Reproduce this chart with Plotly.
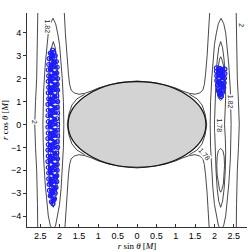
import plotly.graph_objects as go

# ---------------- axes ----------------
x_tickvals = [-2.5, -2, -1.5, -1, -0.5, 0, 0.5, 1, 1.5, 2, 2.5]
x_ticktext = ["2.5", "2", "1.5", "1", "0.5", "0", "0.5", "1", "1.5", "2", "2.5"]
y_tickvals = [-4, -3, -2, -1, 0, 1, 2, 3, 4]
x_range = [-2.84, 2.84]
y_range = [-4.48, 4.87]

# ---------------- horizon (grey region) ----------------
horizon_rx = 1.78
horizon_ry = 1.87

# ---------------- contour branches ----------------
# upper-right quadrant pieces; the figure is mirror-symmetric in both axes
level2_x = [2.56, 2.57, 2.59, 2.62, 2.64]
level2_y = [5.0, 3.5, 2.0, 1.0, 0.0]

lobe182_x = [1.89, 1.90, 1.93, 1.96, 2.00, 2.05, 2.10, 2.17, 2.24, 2.29, 2.32, 2.37, 2.41, 2.42, 2.43]
lobe182_y = [0.0, 1.0, 2.0, 2.8, 3.5, 4.0, 4.4, 4.64, 4.4, 4.0, 3.5, 2.6, 1.5, 0.8, 0.0]

lobe178_x = [2.00, 2.01, 2.02, 2.04, 2.07, 2.11, 2.16, 2.21, 2.25, 2.28, 2.29, 2.28, 2.26]
lobe178_y = [0.0, 0.6, 1.2, 2.0, 2.8, 3.35, 3.62, 3.35, 2.8, 2.0, 1.2, 0.6, 0.0]

island_x = [2.16, 2.10, 2.07, 2.06, 2.07, 2.10, 2.13, 2.16, 2.19, 2.23, 2.25, 2.26, 2.25, 2.22, 2.16]
island_y = [1.05, 1.15, 1.4, 1.8, 2.2, 2.6, 2.85, 2.96, 2.85, 2.6, 2.2, 1.8, 1.4, 1.15, 1.05]

saddle_x = [1.88, 1.85, 1.81, 1.77, 1.74, 1.70, 1.62, 1.50, 1.35, 1.18, 1.0, 0.75, 0.45, 0.0]
saddle_y = [5.0, 4.0, 3.0, 2.2, 1.75, 1.5, 1.38, 1.32, 1.36, 1.46, 1.59, 1.72, 1.83, 1.90]

hug_x = [1.35, 1.55, 1.68, 1.76, 1.80, 1.76, 1.68, 1.55, 1.35]
hug_y = [1.32, 1.12, 0.85, 0.45, 0.0, -0.45, -0.85, -1.12, -1.32]

# ---------------- trajectories (blue points) ----------------
left_traj_x = [-2.18, -2.24, -2.11, -2.27, -2.08, -2.28, -2.06, -2.29, -2.07, -2.28, -2.05,
               -2.29, -2.06, -2.28, -2.05, -2.29, -2.07, -2.28, -2.05, -2.30, -2.06, -2.29,
               -2.05, -2.30, -2.07, -2.29, -2.05, -2.30, -2.06, -2.29, -2.05, -2.30, -2.06,
               -2.29, -2.05, -2.30, -2.07, -2.29, -2.05, -2.30, -2.06, -2.29, -2.06, -2.28,
               -2.07, -2.28, -2.07, -2.27, -2.09, -2.26, -2.11, -2.24, -2.13, -2.21, -2.17]
left_traj_y = [3.25, 3.12, 3.0, 2.88, 2.75, 2.62, 2.5, 2.38, 2.25, 2.12, 2.0, 1.88, 1.75,
               1.62, 1.5, 1.38, 1.25, 1.12, 1.0, 0.88, 0.75, 0.62, 0.5, 0.38, 0.25, 0.12,
               0.0, -0.12, -0.25, -0.38, -0.5, -0.62, -0.75, -0.88, -1.0, -1.12, -1.25,
               -1.38, -1.5, -1.62, -1.75, -1.88, -2.0, -2.12, -2.25, -2.38, -2.5, -2.62,
               -2.75, -2.88, -3.0, -3.12, -3.25, -3.38, -3.47]
left_traj2_x = [-2.15, -2.22, -2.12, -2.23, -2.11, -2.24, -2.12, -2.23, -2.11, -2.24,
                -2.12, -2.23, -2.11, -2.24, -2.12, -2.23, -2.11, -2.24, -2.12, -2.23,
                -2.11, -2.24, -2.12, -2.23, -2.13, -2.21, -2.15]
left_traj2_y = [-3.30, -3.05, -2.80, -2.55, -2.30, -2.05, -1.80, -1.55, -1.30, -1.05,
                -0.80, -0.55, -0.30, -0.05, 0.20, 0.45, 0.70, 0.95, 1.20, 1.45,
                1.70, 1.95, 2.20, 2.45, 2.70, 2.95, 3.15]
right_traj_x = [2.05, 2.27, 2.05, 2.27, 2.06, 2.26, 2.06, 2.25, 2.08, 2.24, 2.10, 2.21, 2.13, 2.17]
right_traj_y = [2.47, 2.42, 2.32, 2.22, 2.12, 2.02, 1.92, 1.82, 1.72, 1.62, 1.52, 1.42, 1.32, 1.22]
right_traj2_x = [2.16, 2.11, 2.22, 2.11, 2.21, 2.12, 2.20, 2.14]
right_traj2_y = [1.28, 1.45, 1.65, 1.85, 2.05, 2.25, 2.40, 2.45]

# ---------------- contour labels ----------------
label_text = ["1.82", "2", "2", "1.82", "1.78", "1.78"]
label_x = [-2.31, -2.63, 2.70, 2.42, 2.12, 1.74]
label_y = [4.3, 0.1, 4.35, 1.0, -0.05, -1.33]
label_angle = [90, 90, 90, 90, 90, 50]

LINE = dict(color="#1a1a1a", width=0.8)
BLUE = "#1c1cff"


def neg(v):
    return [-a for a in v]


def open_vertical(xq, yq):
    return xq + xq[::-1][1:], yq + neg(yq[::-1])[1:]


def closed_arch(ax, ay):
    return ax + ax[::-1][1:], ay + neg(ay[::-1])[1:]


def bridge(xq, yq):
    return xq + neg(xq[::-1])[1:], yq + yq[::-1][1:]


fig = go.Figure()


def add_curve(x, y, mirror_x=True):
    fig.add_trace(go.Scatter(x=x, y=y, mode="lines", line=LINE, hoverinfo="skip",
                             showlegend=False))
    if mirror_x:
        fig.add_trace(go.Scatter(x=neg(x), y=y, mode="lines", line=LINE,
                                 hoverinfo="skip", showlegend=False))


fig.add_shape(type="circle", xref="x", yref="y",
              x0=-horizon_rx, x1=horizon_rx, y0=-horizon_ry, y1=horizon_ry,
              fillcolor="#d3d3d3", line=dict(color="#111111", width=1.2), layer="above")

add_curve(*open_vertical(level2_x, level2_y))
add_curve(*closed_arch(lobe182_x, lobe182_y))
add_curve(*closed_arch(lobe178_x, lobe178_y))
add_curve(island_x, island_y)
add_curve(island_x, neg(island_y))
bx, by = bridge(saddle_x, saddle_y)
add_curve(bx, by, mirror_x=False)
add_curve(bx, neg(by), mirror_x=False)
add_curve(hug_x, hug_y)

for tx, ty in [(left_traj_x, left_traj_y), (left_traj2_x, left_traj2_y),
               (right_traj_x, right_traj_y), (right_traj2_x, right_traj2_y)]:
    fig.add_trace(go.Scatter(x=tx, y=ty, mode="lines+markers",
                             line=dict(color=BLUE, width=2.2),
                             marker=dict(symbol="circle-open", size=4, color=BLUE,
                                         line=dict(width=1.2)),
                             hoverinfo="skip", showlegend=False))

for t, x, y, a in zip(label_text, label_x, label_y, label_angle):
    fig.add_annotation(x=x, y=y, text=t, showarrow=False, textangle=a,
                       font=dict(family="Liberation Sans", size=7, color="#222"),
                       bgcolor="white", borderpad=0)

fig.update_layout(
    width=248, height=252,
    margin=dict(l=27, r=1, t=13, b=25),
    plot_bgcolor="white", paper_bgcolor="white",
    font=dict(family="Liberation Sans", size=9, color="black"),
)
fig.update_xaxes(range=x_range, tickvals=x_tickvals, ticktext=x_ticktext,
                 showgrid=False, zeroline=False, showline=True, linecolor="#333",
                 linewidth=1, ticks="inside", ticklen=3, tickcolor="#333",
                 automargin=False,
                 tickfont=dict(family="Liberation Sans", size=9),
                 title=dict(text="<i>r</i> sin <i>θ</i> [<i>M</i>]", standoff=0,
                            font=dict(family="Liberation Serif", size=9)))
fig.update_yaxes(range=y_range, tickvals=y_tickvals,
                 showgrid=False, zeroline=False, showline=True, linecolor="#333",
                 linewidth=1, ticks="outside", ticklen=3, tickcolor="#333",
                 automargin=False,
                 tickfont=dict(family="Liberation Sans", size=9),
                 title=dict(text="<i>r</i> cos <i>θ</i> [<i>M</i>]", standoff=0,
                            font=dict(family="Liberation Serif", size=9)))

fig.write_html("out.html", config={"displayModeBar": False},
               post_script="document.body.style.margin='0';document.body.style.overflow='hidden';")
